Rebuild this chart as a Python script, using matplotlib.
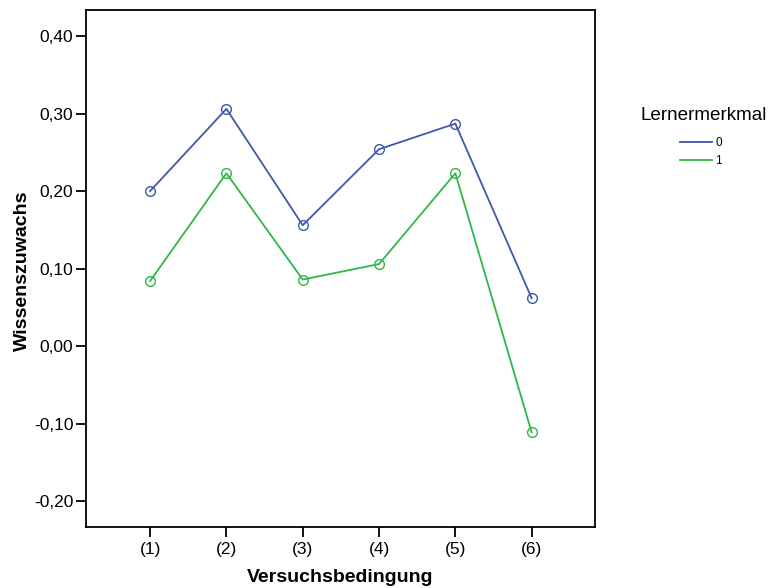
import numpy as np
import matplotlib.pyplot as plt

plt.rcParams['font.family'] = ['Liberation Sans', 'DejaVu Sans']

conditions = ['(1)', '(2)', '(3)', '(4)', '(5)', '(6)']
gain_0 = [0.200, 0.306, 0.156, 0.254, 0.287, 0.062]
gain_1 = [0.084, 0.223, 0.086, 0.106, 0.223, -0.111]
yticks = [-0.20, -0.10, 0.00, 0.10, 0.20, 0.30, 0.40]

W, H = 773, 588
fig = plt.figure(figsize=(W / 100, H / 100), dpi=100)
ax = fig.add_axes([86 / W, 1 - 527 / H, (595 - 86) / W, (527 - 10) / H])

x = np.arange(1, len(conditions) + 1)
l0, = ax.plot(x, gain_0, color='#3E58AC', lw=1.3, marker='o', ms=7,
              mfc='none', mec='#3E58AC', mew=1.0)
l1, = ax.plot(x, gain_1, color='#2EB848', lw=1.3, marker='o', ms=7,
              mfc='none', mec='#2EB848', mew=1.0)

ax.set_xlim(0.16, 6.83)
ax.set_ylim(-0.233, 0.4335)
ax.set_xticks(x)
ax.set_xticklabels(conditions)
ax.set_yticks(yticks)
ax.set_yticklabels([f'{v:.2f}'.replace('.', ',') for v in yticks])
ax.tick_params(axis='both', direction='out', length=7, width=1.3, labelsize=12.5,
               pad=2, colors='black')
ax.tick_params(axis='x', pad=4)
for s in ax.spines.values():
    s.set_linewidth(1.3)

fig.text(22 / W, 1 - 271 / H, 'Wissenszuwachs', rotation=90, ha='center',
         va='center', fontsize=14, fontweight='bold')
fig.text(340 / W, 1 - 577 / H, 'Versuchsbedingung', ha='center', va='center',
         fontsize=14, fontweight='bold')

fig.text(704 / W, 1 - 116 / H, 'Lernermerkmal', ha='center', va='center',
         fontsize=13.6)
fig.legend([l0, l1], ['0', '1'], loc='upper left',
           bbox_to_anchor=(680 / W, 1 - 137 / H), frameon=False, fontsize=8.5,
           handlelength=2.7, handletextpad=0.3, labelspacing=0.5,
           borderpad=0, borderaxespad=0, markerscale=0)

fig.savefig('out.png', dpi=100)
